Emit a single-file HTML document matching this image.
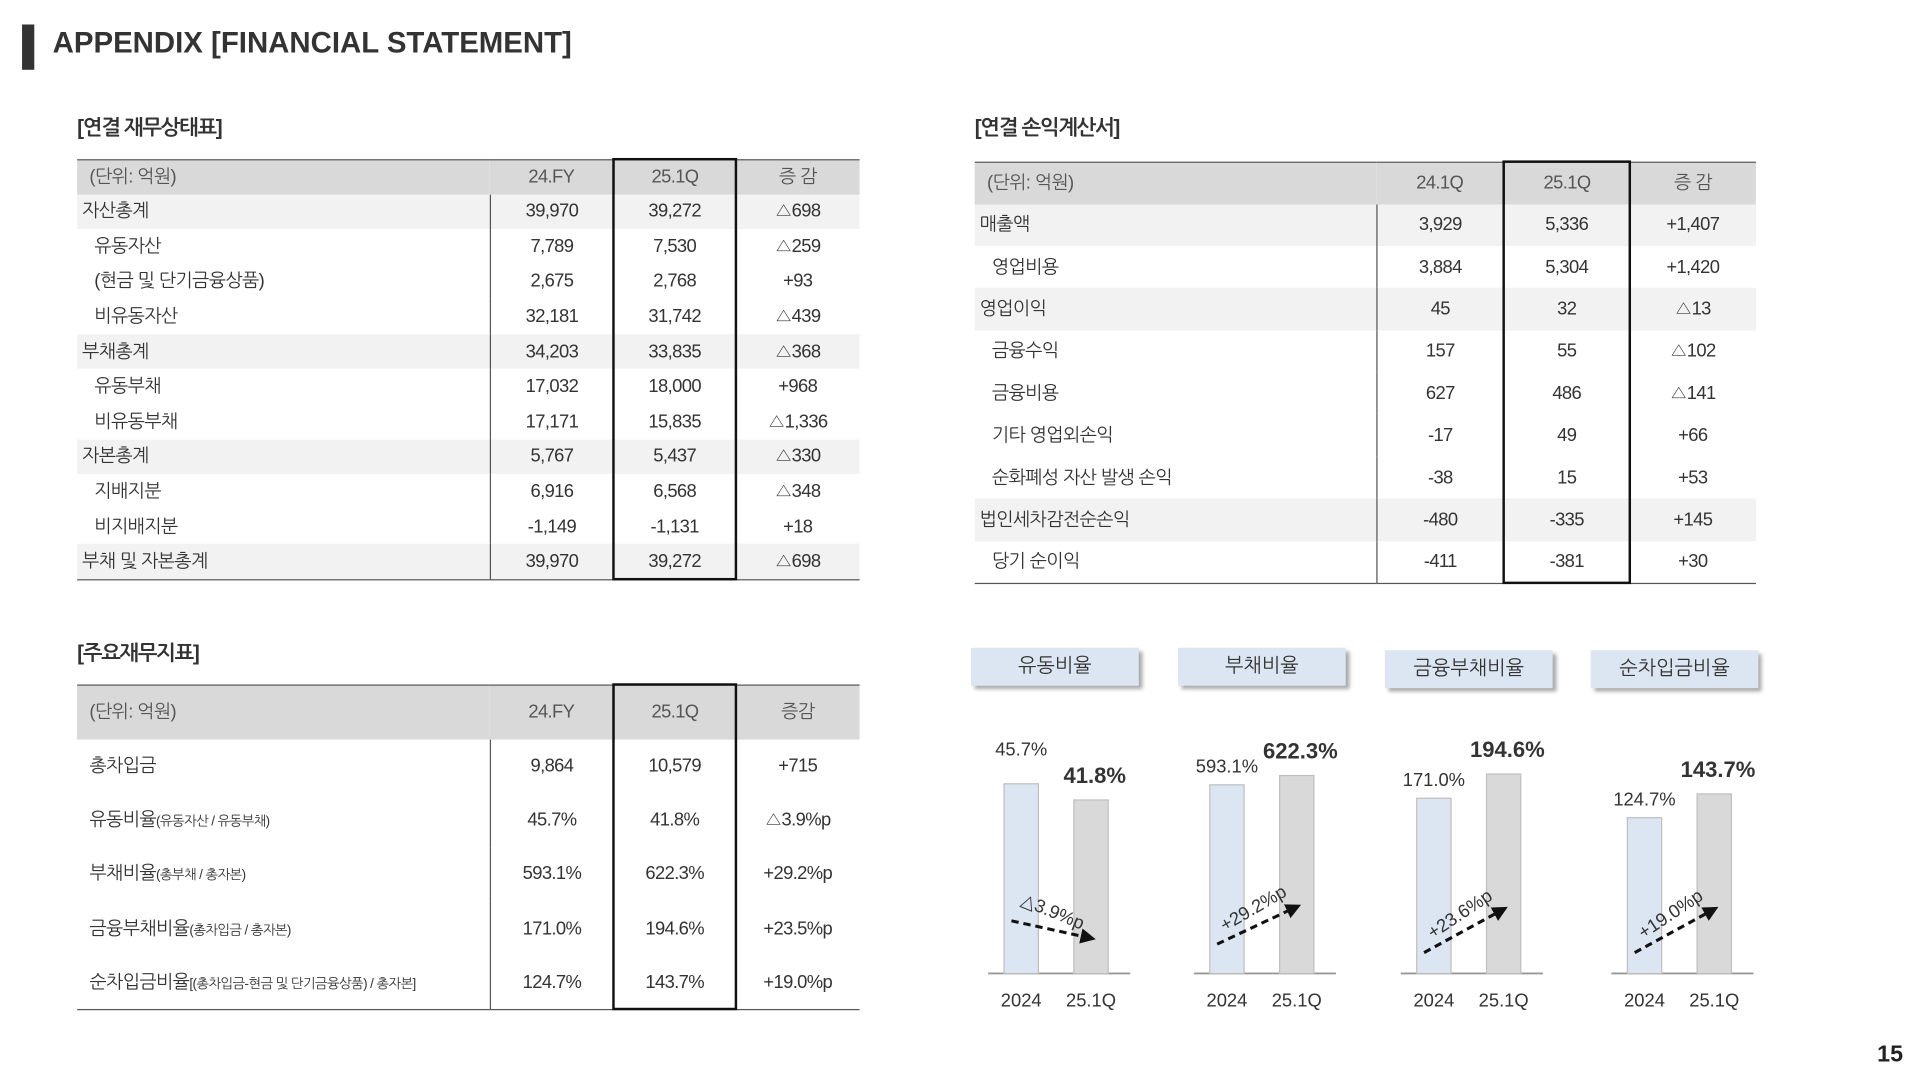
<!DOCTYPE html>
<html><head><meta charset="utf-8">
<style>
html,body{margin:0;padding:0;background:#fff;width:1920px;height:1080px;overflow:hidden}
#stage{position:absolute;left:0;top:0;width:1568px;height:882px;transform:scale(1.22449);transform-origin:0 0;font-family:"Liberation Sans","NanumGothic","Noto Sans CJK KR",sans-serif;color:#333}
.abs{position:absolute}
.sec-title{position:absolute;font-size:17px;font-weight:bold;color:#333;letter-spacing:-1px}
table{position:absolute;border-collapse:collapse;font-size:15px;color:#333;table-layout:fixed}
td{padding:0;text-align:center;white-space:nowrap;letter-spacing:-0.5px}
td.lab{text-align:left;padding-left:4px}
td.ind{padding-left:14px}
tr.hdr td{background:#d9d9d9;color:#555}
tr.sh td{background:#f2f2f2}
td.c1{border-right:1px solid #555}
.box{position:absolute;border:2px solid #111;box-sizing:border-box}
.card{position:absolute;background:#dce6f2;box-shadow:3px 3px 3px #aaa;font-size:16px;text-align:center;color:#333}
.small{font-size:11px}
</style></head>
<body>
<div id="stage">
  <div class="abs" style="left:18px;top:20px;width:10px;height:37px;background:#333"></div>
  <div class="abs" style="left:43px;top:22px;font-size:24px;font-weight:bold;color:#333;letter-spacing:0px">APPENDIX [FINANCIAL STATEMENT]</div>

  <div class="sec-title" style="left:63px;top:95px">[연결 재무상태표]</div>
  <div class="sec-title" style="left:796px;top:95px">[연결 손익계산서]</div>
  <div class="sec-title" style="left:63px;top:524px">[주요재무지표]</div>

  <table id="t1" style="left:63px;top:130px;width:639px;border-top:1.5px solid #555;border-bottom:1.5px solid #555"></table>
  <div class="box" style="left:500px;top:129px;width:102px;height:345px"></div>

  <table id="t2" style="left:796px;top:132px;width:638px;border-top:1.5px solid #555;border-bottom:1.5px solid #555"></table>
  <div class="box" style="left:1227px;top:131px;width:105px;height:346px"></div>

  <table id="t3" style="left:63px;top:559px;width:639px;border-top:1.5px solid #555;border-bottom:1.5px solid #555"></table>
  <div class="box" style="left:500px;top:558px;width:102px;height:267px"></div>

  <svg id="charts" class="abs" style="left:0;top:0" width="1568" height="882">
    <defs><marker id="ah" markerWidth="5" markerHeight="5" refX="3" refY="2.5" orient="auto" markerUnits="strokeWidth"><path d="M0,0 L5,2.5 L0,5 z" fill="#111"/></marker></defs>
  </svg>
  <div class="abs" style="left:1533px;top:851px;font-size:19px;font-weight:bold;color:#222">15</div>
</div>
<script>
// ---- table data ----
const bsHeader = ["(단위: 억원)","24.FY","25.1Q","증 감"];
const bsLabels = ["자산총계","유동자산","(현금 및 단기금융상품)","비유동자산","부채총계","유동부채","비유동부채","자본총계","지배지분","비지배지분","부채 및 자본총계"];
const bsPrev = ["39,970","7,789","2,675","32,181","34,203","17,032","17,171","5,767","6,916","-1,149","39,970"];
const bsCurr = ["39,272","7,530","2,768","31,742","33,835","18,000","15,835","5,437","6,568","-1,131","39,272"];
const bsDiff = ["△698","△259","+93","△439","△368","+968","△1,336","△330","△348","+18","△698"];
const bsShade = [1,0,0,0,1,0,0,1,0,0,1];

const isHeader = ["(단위: 억원)","24.1Q","25.1Q","증 감"];
const isLabels = ["매출액","영업비용","영업이익","금융수익","금융비용","기타 영업외손익","순화폐성 자산 발생 손익","법인세차감전순손익","당기 순이익"];
const isPrev = ["3,929","3,884","45","157","627","-17","-38","-480","-411"];
const isCurr = ["5,336","5,304","32","55","486","49","15","-335","-381"];
const isDiff = ["+1,407","+1,420","△13","△102","△141","+66","+53","+145","+30"];
const isShade = [1,0,1,0,0,0,0,1,0];

const kiHeader = ["(단위: 억원)","24.FY","25.1Q","증감"];
const kiLabels = ["총차입금","유동비율","부채비율","금융부채비율","순차입금비율"];
const kiSub = ["","(유동자산 / 유동부채)","(총부채 / 총자본)","(총차입금 / 총자본)","[(총차입금-현금 및 단기금융상품) / 총자본]"];
const kiPrev = ["9,864","45.7%","593.1%","171.0%","124.7%"];
const kiCurr = ["10,579","41.8%","622.3%","194.6%","143.7%"];
const kiDiff = ["+715","△3.9%p","+29.2%p","+23.5%p","+19.0%p"];

function buildTable(id, widths, header, hh, labels, prev, curr, diff, shade, rh, sub, indentFn){
  const t = document.getElementById(id);
  const cg = document.createElement('colgroup');
  widths.forEach(w=>{const c=document.createElement('col');c.style.width=w+'px';cg.appendChild(c);});
  t.appendChild(cg);
  const hr = document.createElement('tr');
  hr.className='hdr';hr.style.height=hh+'px';
  
  
  header.forEach((h,i)=>{const td=document.createElement('td');td.textContent=h;if(i==0){td.className='lab';td.style.paddingLeft='10px';}if(i==1)td.classList.add('c1');td.style.fontSize='15px';hr.appendChild(td);});
  t.appendChild(hr);
  labels.forEach((l,i)=>{
    const tr=document.createElement('tr');
    tr.style.height=rh+'px';
    if(shade && shade[i]) tr.className='sh';
    
    
    const a=document.createElement('td');a.className='lab c1';
    if(indentFn(i)) a.classList.add('ind');
    if(sub){a.style.paddingLeft='10px';a.innerHTML=l+(sub[i]?'<span class="small">'+sub[i]+'</span>':'');} else a.textContent=l;
    tr.appendChild(a);
    [prev[i],curr[i],diff[i]].forEach(v=>{const td=document.createElement('td');td.textContent=v;tr.appendChild(td);});
    t.appendChild(tr);
  });
}
buildTable('t1',[337,101,100,101],bsHeader,28,bsLabels,bsPrev,bsCurr,bsDiff,bsShade,28.6,null,i=>!bsShade[i]);
buildTable('t2',[328,104,103,103],isHeader,34,isLabels,isPrev,isCurr,isDiff,isShade,34.4,null,i=>!isShade[i]);
buildTable('t3',[337,101,100,101],kiHeader,44,kiLabels,kiPrev,kiCurr,kiDiff,null,44.2,kiSub,i=>false);

// ---- chart data ----
const chartTitles = ["유동비율","부채비율","금융부채비율","순차입금비율"];
const categories = ["2024","25.1Q"];
const prevValues = [45.7,593.1,171.0,124.7];
const currValues = [41.8,622.3,194.6,143.7];
const changeLabels = ["△3.9%p","+29.2%p","+23.6%p","+19.0%p"];
const yMax = [59,770,239,196];

const svg = document.getElementById('charts');
const NS='http://www.w3.org/2000/svg';
const base=795, plotH=200;
const chartX=[807,975,1144,1316];
const cardX=[793,962,1131,1299];
function yScale(v,c){return base - v/yMax[c]*plotH;}
function mk(tag,attrs){const e=document.createElementNS(NS,tag);for(const k in attrs)e.setAttribute(k,attrs[k]);svg.appendChild(e);return e;}
const stage=document.getElementById('stage');
chartTitles.forEach((title,c)=>{
  const card=document.createElement('div');
  card.className='card';
  card.style.left=cardX[c]+'px';card.style.top=(c<2?529:531)+'px';card.style.width='137px';card.style.height='31px';card.style.lineHeight='31px';
  card.textContent=title;
  
  
  stage.appendChild(card);
  const x0=chartX[c];
  const ax=mk('line',{x1:x0,y1:base,x2:x0+116,y2:base,stroke:'#999','stroke-width':1.5});
  
  
  const bx=[x0+13,x0+70];
  const vals=[prevValues[c],currValues[c]];
  vals.forEach((v,j)=>{
    const y=yScale(v,c);
    const r=mk('rect',{x:bx[j],y:y,width:28,height:base-y,fill:j?'#d9d9d9':'#dce6f2',stroke:'#bfbfbf','stroke-width':1});
    
    
    const vt=mk('text',{x:bx[j]+14+(j?3:0),y:y-(j?14:(c==0?23:10)),'text-anchor':'middle','font-size':j?18:15,'font-weight':j?'bold':'normal',fill:'#333','font-family':'Liberation Sans, sans-serif'});
    vt.textContent=v.toFixed(1)+'%';
    
    
    const ct=mk('text',{x:bx[j]+14,y:822,'text-anchor':'middle','font-size':15,fill:'#333','font-family':'Liberation Sans, sans-serif'});
    ct.textContent=categories[j];
    
    
  });
  const down = currValues[c] < prevValues[c];
  const xa=x0+19, xb=x0+83;
  const ya= down? 752 : (c==1?771:778);
  const yb= down? 766 : (c==1?741:743);
  const ln=mk('line',{x1:xa,y1:ya,x2:xb,y2:yb,stroke:'#111','stroke-width':2.5,'stroke-dasharray':'6,4','marker-end':'url(#ah)'});
  
  
  const ang=Math.atan2(yb-ya,xb-xa)*180/Math.PI;
  const lx=(xa+xb)/2, ly=(ya+yb)/2-10;
  const lt=mk('text',{x:lx,y:ly,'text-anchor':'middle','font-size':15,fill:'#333','font-family':'Liberation Sans, sans-serif',transform:'rotate('+(down?ang+10:ang-5)+' '+lx+' '+ly+')'});
  lt.textContent=changeLabels[c];
  
  
});
</script>
</body></html>
